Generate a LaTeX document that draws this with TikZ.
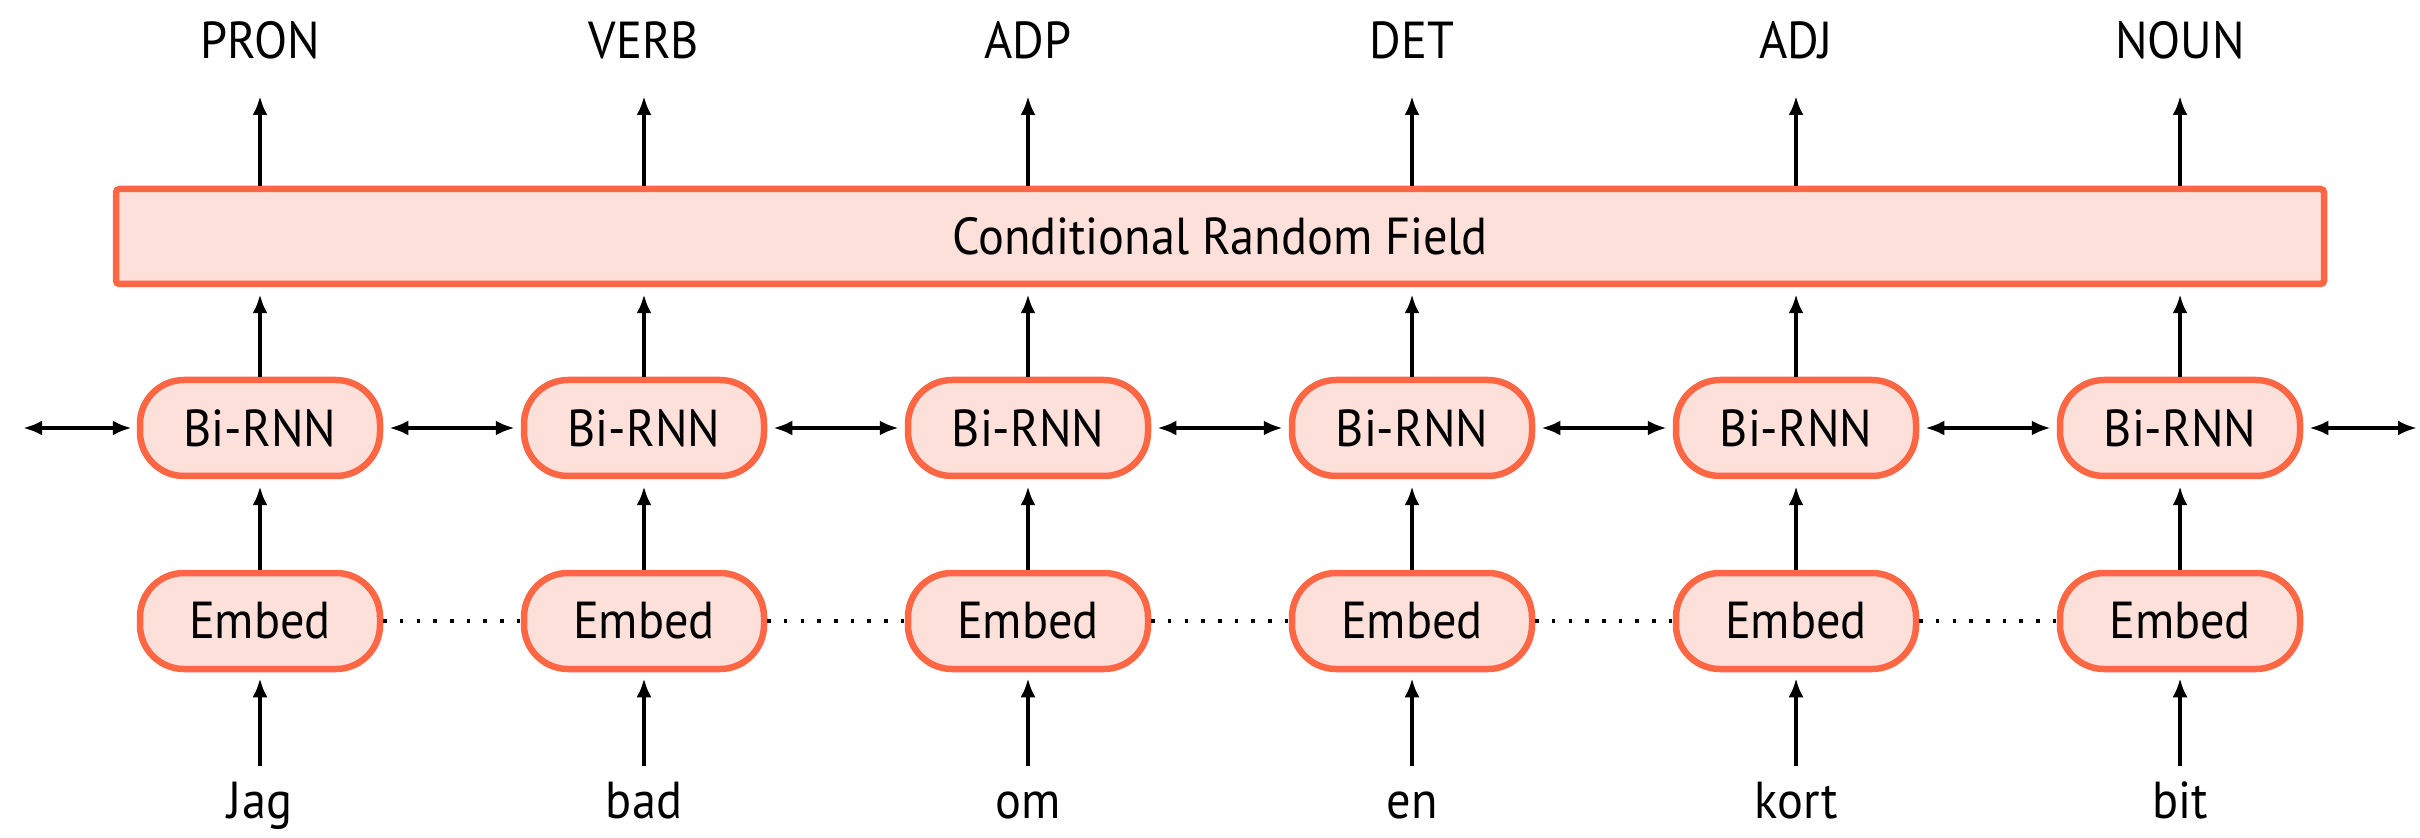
\documentclass[tikz,border=0pt]{standalone}
\usepackage{fontspec}
\setmainfont{PT Sans}[FakeStretch=0.93]
\usetikzlibrary{arrows.meta}
\definecolor{boxline}{RGB}{255,102,68}
\definecolor{boxfill}{RGB}{253,224,217}
\begin{document}
\begin{tikzpicture}[
  font=\fontsize{14.8pt}{17pt}\selectfont,
  pill/.style={draw=boxline, fill=boxfill, line width=0.065cm, rounded corners=0.44cm,
    minimum width=2.40cm, minimum height=0.96cm, inner sep=0pt},
  crfbox/.style={draw=boxline, fill=boxfill, line width=0.065cm, rounded corners=1pt,
    minimum width=22.08cm, minimum height=0.95cm, inner sep=0pt},
  lbl/.style={inner sep=0pt, anchor=base, text depth=0pt},
  conn/.style={line width=0.04cm, -{Latex[length=0.19cm,width=0.15cm]}},
  biconn/.style={line width=0.04cm, {Latex[length=0.19cm,width=0.15cm]}-{Latex[length=0.19cm,width=0.15cm]}},
  dotline/.style={line width=0.04cm, dash pattern=on 0.035cm off 0.132cm}
]
\useasboundingbox (0,0) rectangle (24.2,-8.38);

\node[crfbox] (crf) at (12.20,-2.365) {Conditional Random Field};

\foreach \i/\x/\tag/\word in {1/2.60/PRON/Jag, 2/6.44/VERB/bad, 3/10.28/ADP/om, 4/14.12/DET/en, 5/17.96/ADJ/kort, 6/21.80/NOUN/bit}{
  \node[lbl] (t\i) at (\x,-0.59) {\tag};
  \node[pill] (b\i) at (\x,-4.28) {Bi-RNN};
  \node[pill] (e\i) at (\x,-6.21) {Embed};
  \node[lbl] (w\i) at (\x,-8.18) {\word};
  \draw[conn, shorten <=0.52cm, shorten >=0.06cm] (w\i.base) -- (e\i.south);
  \draw[conn, shorten >=0.07cm] (e\i.north) -- (b\i.south);
  \draw[conn, shorten >=0.07cm] (b\i.north) -- (b\i.north |- crf.south);
  \draw[conn, shorten >=0.37cm] (t\i.base |- crf.north) -- (t\i.base);
}

\foreach \a/\b in {1/2,2/3,3/4,4/5,5/6}{
  \draw[biconn, shorten <=0.06cm, shorten >=0.06cm] (b\a.east) -- (b\b.west);
  \draw[dotline] (e\a.east) -- (e\b.west);
}

\coordinate (lend) at (0.23,-4.28);
\coordinate (rend) at (24.17,-4.28);
\draw[biconn, shorten >=0.05cm] (lend) -- (b1.west);
\draw[biconn, shorten <=0.06cm] (b6.east) -- (rend);
\end{tikzpicture}
\end{document}
